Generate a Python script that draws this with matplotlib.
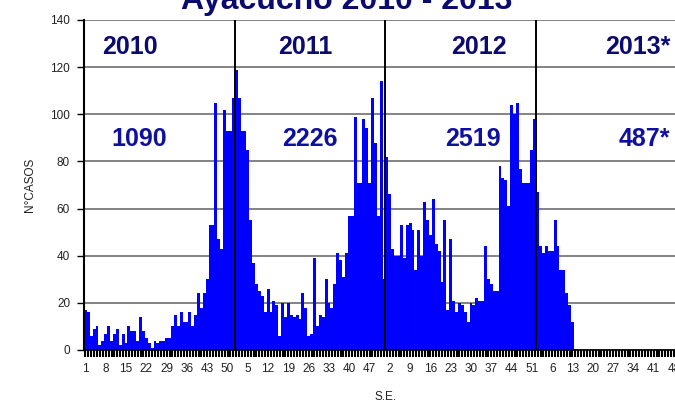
import numpy as np
import matplotlib
matplotlib.use('Agg')
import matplotlib.pyplot as plt

plt.rcParams['font.family'] = ['Liberation Sans', 'DejaVu Sans']

# casos semanales por año (S.E. 1-52), 2013 solo hasta la S.E. 13
casos_2010 = [17, 16, 6, 9, 10, 2, 4, 7, 10, 4,
              7, 9, 2, 7, 3, 10, 8, 8, 4, 14,
              8, 5, 3, 1, 4, 3, 4, 4, 5, 5,
              10, 15, 10, 16, 12, 12, 16, 10, 15, 24,
              18, 24, 30, 53, 53, 105, 47, 43, 102, 93,
              93, 107]
casos_2011 = [119, 107, 93, 93, 85, 55, 37, 28, 25, 23,
              16, 26, 16, 21, 19, 6, 20, 14, 20, 15,
              14, 15, 13, 24, 18, 6, 7, 39, 10, 15,
              14, 30, 20, 18, 28, 41, 38, 31, 41, 57,
              57, 99, 71, 71, 98, 94, 71, 107, 88, 57,
              114, 30]
casos_2012 = [82, 66, 43, 40, 40, 53, 39, 53, 54, 51,
              34, 51, 40, 63, 55, 49, 64, 45, 42, 29,
              55, 17, 47, 21, 16, 20, 19, 16, 12, 20,
              19, 22, 21, 21, 44, 30, 28, 25, 25, 78,
              73, 72, 61, 104, 100, 105, 77, 71, 71, 71,
              85, 98]
casos_2013 = [67, 44, 41, 44, 42, 42, 55, 44, 34, 34, 24, 19, 12]

anios = ['2010', '2011', '2012', '2013*']
totales = ['1090', '2226', '2519', '487*']
semanas_por_anio = 52
n_anios = 4

serie = casos_2010 + casos_2011 + casos_2012 + casos_2013
x = np.arange(len(serie))

semanas = np.tile(np.arange(1, semanas_por_anio + 1), n_anios)
pos = np.arange(len(semanas))

fig = plt.figure(figsize=(6.75, 4.07), dpi=100)
ax = fig.add_axes([84 / 675, 57 / 407, 603 / 675, 330 / 407])

ax.bar(x, serie, width=1.0, color='#0000FF', linewidth=0)

ax.set_xlim(-0.5, len(semanas) - 0.5)
ax.set_ylim(0, 140)
ax.set_yticks(np.arange(0, 141, 20))
ax.yaxis.grid(True, color='#7a7a7a', linewidth=1.3)
ax.set_axisbelow(True)

# division entre años
for k in range(1, n_anios):
    ax.axvline(k * semanas_por_anio - 0.5, color='black', linewidth=1.4)

ax.set_xticks(pos)
ax.set_xticklabels([str(s) if i % 7 == 0 else '' for i, s in enumerate(semanas)])
ax.tick_params(axis='x', length=5, width=1.5, color='black', labelsize=8.5,
               labelcolor='#222222', pad=4)
ax.tick_params(axis='y', length=5, width=1.0, color='black', labelsize=8.5,
               labelcolor='#222222', pad=5)

for s in ['top', 'right']:
    ax.spines[s].set_visible(False)
ax.spines['left'].set_linewidth(1.5)
ax.spines['bottom'].set_linewidth(1.2)

# etiquetas de año y total
pos_anio = [15.4, 75.7, 135.7, 201.8]
pos_total = [18.5, 77.4, 133.6, 201.8]
for k in range(n_anios):
    ha = 'right' if k == n_anios - 1 else 'center'
    ax.text(pos_anio[k], 128.6, anios[k], ha=ha, va='center', fontsize=18,
            fontweight='bold', color='#0a0a70')
    ax.text(pos_total[k], 89.5, totales[k], ha=ha, va='center', fontsize=18,
            fontweight='bold', color='#1010a0')

ax.set_ylabel('N°CASOS', fontsize=8.5, color='#222222', labelpad=10)
ax.set_xlabel('S.E.', fontsize=8.5, color='#222222', labelpad=12)

fig.text(347 / 675, 1 - 9 / 407, 'Ayacucho 2010 - 2013', ha='center', va='baseline',
         fontsize=23, fontweight='bold', color='#0a0a70')

fig.savefig('out.png', dpi=100)
